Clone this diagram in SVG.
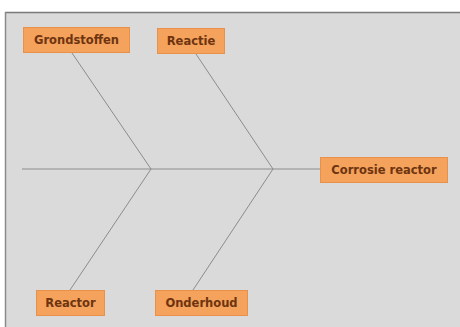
<svg xmlns="http://www.w3.org/2000/svg" width="460" height="327" viewBox="0 0 460 327">
<style>
.bg{fill:#dadada}
.box{fill:#f4a25c;stroke:#e8914a;stroke-width:1}
.lbl{font-family:"DejaVu Sans",Verdana,sans-serif;font-weight:bold;font-size:11.5px;fill:#6e3410;text-anchor:middle}
.ln{stroke:#8c8c8c;stroke-width:1;fill:none}
</style>
<rect width="460" height="327" fill="#ffffff"/>
<rect class="bg" x="5" y="12" width="455" height="315"/>
<line x1="5" y1="12.5" x2="460" y2="12.5" stroke="#7a7a7a" stroke-width="1.5"/>
<line x1="5.5" y1="12" x2="5.5" y2="327" stroke="#8a8a8a" stroke-width="1.5"/>
<g id="connectors">
<line class="ln" x1="22" y1="169" x2="320" y2="169"/>
<line class="ln" x1="72" y1="53" x2="151" y2="169"/>
<line class="ln" x1="196" y1="54" x2="273" y2="169"/>
<line class="ln" x1="70" y1="290" x2="151" y2="169"/>
<line class="ln" x1="193" y1="290" x2="273" y2="169"/>
</g>
<g id="grondstoffen">
<rect class="box" x="23.5" y="27.5" width="106" height="25"/>
<text class="lbl" x="76.5" y="44">Grondstoffen</text>
</g>
<g id="reactie">
<rect class="box" x="157.5" y="28.5" width="67" height="25"/>
<text class="lbl" x="191" y="45">Reactie</text>
</g>
<g id="corrosie-reactor">
<rect class="box" x="320.5" y="157.5" width="127" height="25"/>
<text class="lbl" x="384" y="174">Corrosie reactor</text>
</g>
<g id="reactor">
<rect class="box" x="36.5" y="290.5" width="68" height="25"/>
<text class="lbl" x="70.5" y="307">Reactor</text>
</g>
<g id="onderhoud">
<rect class="box" x="155.5" y="290.5" width="92" height="25"/>
<text class="lbl" x="201.5" y="307">Onderhoud</text>
</g>
</svg>
